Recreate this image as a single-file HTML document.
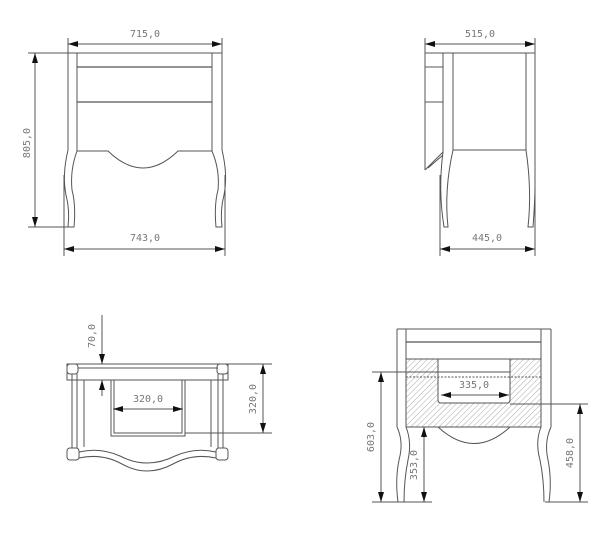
<!DOCTYPE html>
<html><head><style>html,body{margin:0;background:#fff}svg{display:block}</style></head>
<body>
<svg width="600" height="538" viewBox="0 0 600 538" xmlns="http://www.w3.org/2000/svg" font-family="DejaVu Sans Mono, Liberation Mono, monospace" font-size="10" fill="none" stroke="#555" stroke-width="1">
<defs>
<marker id="a" viewBox="0 0 10 6" refX="10" refY="3" markerWidth="10" markerHeight="6" orient="auto-start-reverse" markerUnits="userSpaceOnUse"><path d="M0,0L10,3L0,6z" fill="#111" stroke="none"/></marker>
<pattern id="h" width="4" height="4" patternUnits="userSpaceOnUse" patternTransform="rotate(45)"><line x1="0" y1="0" x2="0" y2="4" stroke="#aaa" stroke-width="1"/></pattern>
</defs>

<g>
<line x1="68" y1="38" x2="68" y2="150"/><line x1="222" y1="38" x2="222" y2="150"/>
<line x1="68" y1="44" x2="222" y2="44" marker-start="url(#a)" marker-end="url(#a)"/>
<text x="145" y="37" fill="#777" stroke="none" text-anchor="middle">715,0</text>
<line x1="28" y1="53" x2="222" y2="53"/>
<line x1="77" y1="53" x2="77" y2="151"/><line x1="212" y1="53" x2="212" y2="151"/>
<line x1="77" y1="67" x2="212" y2="67" stroke-width="1.3"/><line x1="77" y1="102" x2="212" y2="102" stroke-width="1.3"/>
<path d="M77,151 L108,151 Q143,185 178,151 L212,151"/>
<path d="M68,150 Q62,175 66,195 Q70,210 68,227 L74,227 Q76,205 72,190 Q70,170 77,151"/>
<path d="M222,150 Q228,175 224,195 Q220,210 222,227 L216,227 Q214,205 218,190 Q220,170 212,151"/>
<line x1="28" y1="227" x2="72" y2="227"/>
<line x1="35" y1="53" x2="35" y2="227" marker-start="url(#a)" marker-end="url(#a)"/>
<text x="30" y="143" fill="#777" stroke="none" text-anchor="middle" transform="rotate(-90 30 143)">805,0</text>
<line x1="64" y1="175" x2="64" y2="256"/><line x1="225" y1="175" x2="225" y2="256"/>
<line x1="64" y1="249" x2="225" y2="249" marker-start="url(#a)" marker-end="url(#a)"/>
<text x="145" y="241" fill="#777" stroke="none" text-anchor="middle">743,0</text>
</g>

<g>
<line x1="425" y1="38" x2="425" y2="170"/><line x1="535" y1="38" x2="535" y2="225"/>
<line x1="425" y1="44" x2="535" y2="44" marker-start="url(#a)" marker-end="url(#a)"/>
<text x="480" y="37" fill="#777" stroke="none" text-anchor="middle">515,0</text>
<line x1="425" y1="53" x2="535" y2="53"/>
<line x1="443" y1="53" x2="443" y2="152"/><line x1="453" y1="53" x2="453" y2="150"/>
<line x1="526" y1="53" x2="526" y2="150"/>
<line x1="425" y1="67" x2="443" y2="67"/><line x1="425" y1="102" x2="443" y2="102"/>
<path d="M425,170 L443,152 M428,168 L443,155"/>
<line x1="453" y1="150" x2="526" y2="150"/>
<path d="M443,152 Q438,190 444,227 L448,227 Q444,190 453,150"/>
<path d="M526,150 Q532,190 528,227 L533,227 Q535,200 535,185"/>
<line x1="440" y1="175" x2="440" y2="256"/>
<line x1="440" y1="249" x2="535" y2="249" marker-start="url(#a)" marker-end="url(#a)"/>
<line x1="535" y1="225" x2="535" y2="256"/>
<text x="487" y="241" fill="#777" stroke="none" text-anchor="middle">445,0</text>
</g>

<g>
<rect x="67" y="364" width="161" height="16"/>
<line x1="78" y1="368" x2="218" y2="368"/>
<rect x="67" y="364" width="11" height="10" rx="3"/><rect x="217" y="364" width="11" height="10" rx="3"/>
<line x1="72" y1="374" x2="72" y2="448"/><line x1="77" y1="374" x2="77" y2="448"/>
<line x1="218" y1="374" x2="218" y2="448"/><line x1="223" y1="374" x2="223" y2="448"/>
<line x1="84" y1="380" x2="84" y2="447"/><line x1="211" y1="380" x2="211" y2="447"/>
<rect x="111" y="380" width="74" height="56"/>
<rect x="114" y="380" width="68" height="53"/>
<rect x="67" y="448" width="12" height="12" rx="3"/><rect x="216" y="448" width="12" height="12" rx="3"/>
<path d="M79,452 Q100,447 120,456 Q147,470 175,456 Q195,447 216,452"/>
<path d="M79,458 Q102,453 122,464 Q147,478 173,464 Q193,453 216,458"/>
<line x1="102" y1="315" x2="102" y2="364" marker-end="url(#a)"/>
<line x1="102" y1="396" x2="102" y2="380" marker-end="url(#a)"/>
<text x="95" y="336" fill="#777" stroke="none" text-anchor="middle" transform="rotate(-90 95 336)">70,0</text>
<line x1="113" y1="409" x2="183" y2="409" marker-start="url(#a)" marker-end="url(#a)"/>
<text x="148" y="402" fill="#777" stroke="none" text-anchor="middle">320,0</text>
<line x1="228" y1="364" x2="272" y2="364"/><line x1="185" y1="433" x2="272" y2="433"/>
<line x1="263" y1="364" x2="263" y2="433" marker-start="url(#a)" marker-end="url(#a)"/>
<text x="256" y="399" fill="#777" stroke="none" text-anchor="middle" transform="rotate(-90 256 399)">320,0</text>
</g>

<g>
<path d="M406,359 H541 V427 H406 Z M438,359 V400 Q438,403 441,403 H507 Q510,403 510,400 V359 Z" fill="url(#h)" fill-rule="evenodd" stroke="none"/>
<line x1="397" y1="329" x2="551" y2="329"/>
<line x1="397" y1="329" x2="397" y2="427"/><line x1="406" y1="329" x2="406" y2="427"/>
<line x1="541" y1="329" x2="541" y2="427"/><line x1="551" y1="329" x2="551" y2="427"/>
<line x1="406" y1="342" x2="541" y2="342" stroke-width="1.2"/>
<line x1="406" y1="359" x2="541" y2="359"/>
<path d="M438,359 V400 Q438,403 441,403 H507 Q510,403 510,400 V359"/>
<line x1="406" y1="377" x2="541" y2="377" stroke-dasharray="2,1.5"/>
<line x1="406" y1="427" x2="541" y2="427"/>
<path d="M438,427 Q474,460 510,427"/>
<path d="M397,427 Q404,442 399,460 Q395,480 398,502 M406,427 Q412,442 408,460 Q404,480 404,502"/>
<path d="M551,427 Q544,442 548,460 Q552,480 549,502 M541,427 Q535,442 540,460 Q544,480 544,502"/>
<line x1="372" y1="372" x2="510" y2="372"/>
<line x1="372" y1="502" x2="432" y2="502"/><line x1="545" y1="502" x2="588" y2="502"/>
<line x1="381" y1="372" x2="381" y2="502" marker-start="url(#a)" marker-end="url(#a)"/>
<text x="374" y="437" fill="#777" stroke="none" text-anchor="middle" transform="rotate(-90 374 437)">603,0</text>
<line x1="424" y1="427" x2="424" y2="502" marker-start="url(#a)" marker-end="url(#a)"/>
<text x="417" y="465" fill="#777" stroke="none" text-anchor="middle" transform="rotate(-90 417 465)">353,0</text>
<line x1="510" y1="404" x2="588" y2="404"/>
<line x1="580" y1="404" x2="580" y2="502" marker-start="url(#a)" marker-end="url(#a)"/>
<text x="573" y="453" fill="#777" stroke="none" text-anchor="middle" transform="rotate(-90 573 453)">458,0</text>
<line x1="441" y1="395" x2="509" y2="395" marker-start="url(#a)" marker-end="url(#a)"/>
<text x="474" y="388" fill="#777" stroke="none" text-anchor="middle">335,0</text>
</g>
</svg>
</body></html>
